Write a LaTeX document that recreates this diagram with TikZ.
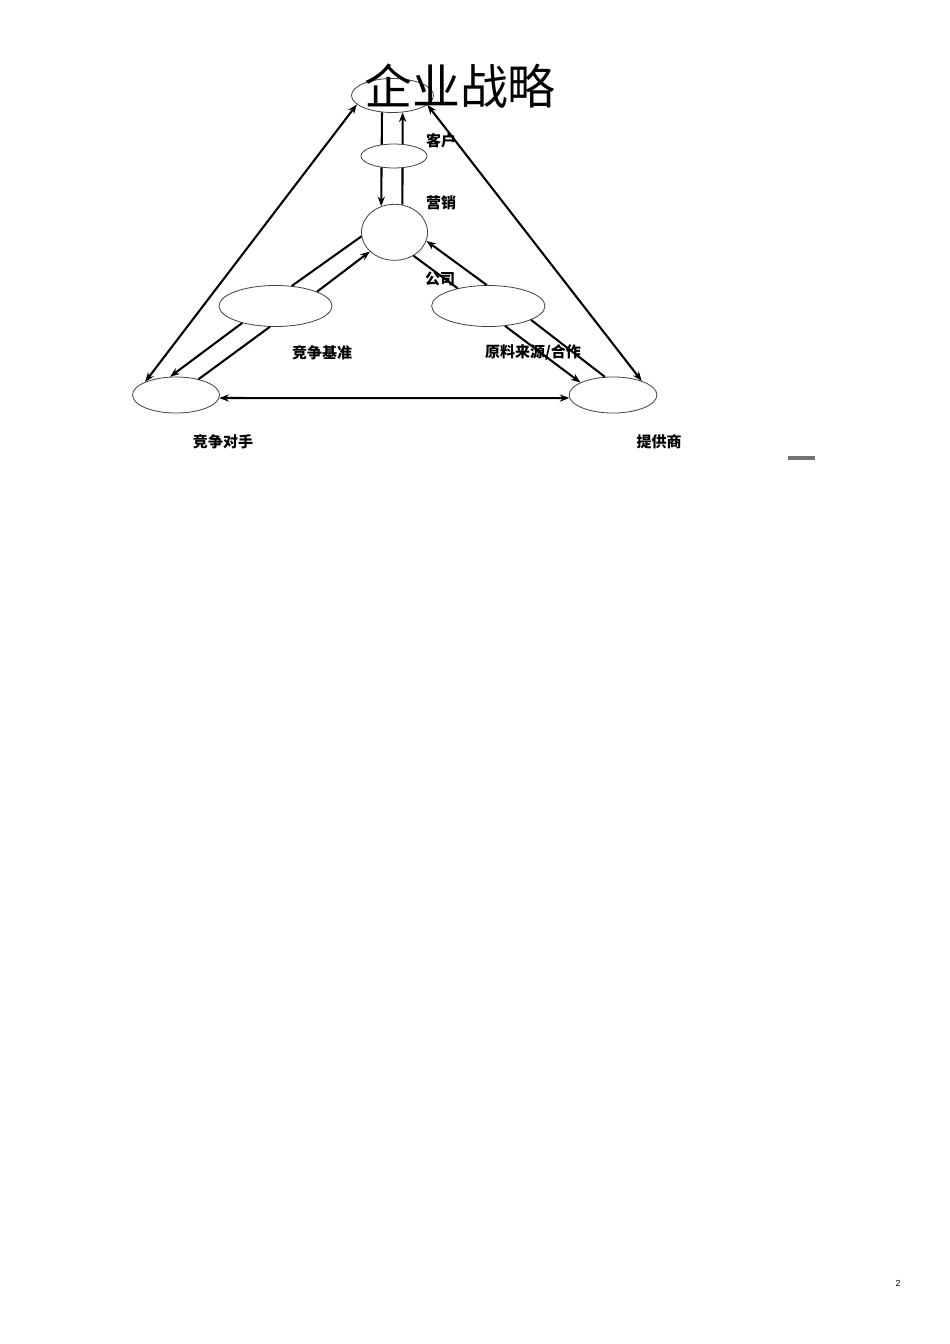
\documentclass[tikz,border=0pt]{standalone}
\usepackage{fontspec}
\usepackage{tikz}
\usetikzlibrary{shapes.geometric, arrows.meta, positioning}
\newfontfamily\cjk{Noto Sans CJK SC}
\newfontfamily\arialfont{Liberation Sans}
\usepackage{xcolor}

\begin{document}
\begin{tikzpicture}[
    x=0.6266pt, y=-0.6266pt,
    oval/.style={ellipse, draw=black!75, line width=0.5pt, inner sep=0pt},
    arrow/.style={-{Stealth[length=6pt, width=4.5pt]}, line width=1.3pt},
    plain/.style={line width=1.3pt},
    both/.style={{Stealth[length=6pt, width=4.5pt]}-{Stealth[length=6pt, width=4.5pt]}, line width=1.3pt},
    label/.style={font=\cjk\bfseries\fontsize{9.4}{11}\selectfont, inner sep=0pt},
    every node/.append style={font=\small}
]
    \useasboundingbox[fill=white] (0,0) rectangle (950,1344);

    % Components
    \node[oval, minimum width=51.4pt, minimum height=21.3pt] (strategy) at (392.5,95.5) {};
    \node[oval, minimum width=41.4pt, minimum height=35.1pt] (company) at (394.5,232.3) {};
    \node[oval, minimum width=70.8pt, minimum height=25.7pt] (benchmark) at (275.5,306) {};
    \node[oval, minimum width=71pt, minimum height=25.7pt] (sourcing) at (488.3,306) {};
    \node[oval, minimum width=54.5pt, minimum height=22.6pt] (rival) at (176,395) {};
    \node[oval, minimum width=55pt, minimum height=22.6pt] (supplier) at (613,395) {};

    % Labels
    \node[font=\cjk\fontsize{30}{32}\selectfont, inner sep=0pt] (title) at (460,86.5) {企业战略};
    \node[label] (customerlbl) at (441,141) {客户};
    \node[label] (marketinglbl) at (441,203) {营销};
    \node[label] (companylbl) at (440,278.5) {公司};
    \node[label] (benchmarklbl) at (322,353) {竞争基准};
    \node[label] (sourcinglbl) at (533,352) {原料来源/合作};
    \node[label] (rivallbl) at (223,442) {竞争对手};
    \node[label] (supplierlbl) at (659,442) {提供商};

    % Connections
    \draw[arrow] (strategy.-122) -- (company.117);
    \draw[arrow] (company.74) -- (strategy.-59);
    \draw[plain] (company.187) -- (benchmark.51);
    \draw[arrow] (benchmark.19) -- (company.218);
    \draw[arrow] (sourcing.94) -- (company.-15.5);
    \draw[plain] (company.-51.6) -- (sourcing.150.7);
    \draw[arrow] (benchmark.207) -- (rival.108.7);
    \draw[plain] (rival.35) -- (benchmark.255);
    \draw[arrow] (sourcing.-50) -- (supplier.159);
    \draw[plain] (supplier.114) -- (sourcing.-18.6);
    \draw[both] (rival.157.4) -- (strategy.194);
    \draw[both] (supplier.26.2) -- (strategy.-15.4);
    \draw[both] (rival.-4) -- (supplier.-176);

    % Customer sits over the two vertical lines
    \node[oval, fill=white, minimum width=41.4pt, minimum height=15pt] (customer) at (394,156) {};

    % Page furniture
    \draw[black!55, line width=1.9pt] (788,458) -- (815,458);
    \node[font=\arialfont\fontsize{5.5}{6}\selectfont, inner sep=0pt] (pagenum) at (898,1283) {2};

\end{tikzpicture}
\end{document}
